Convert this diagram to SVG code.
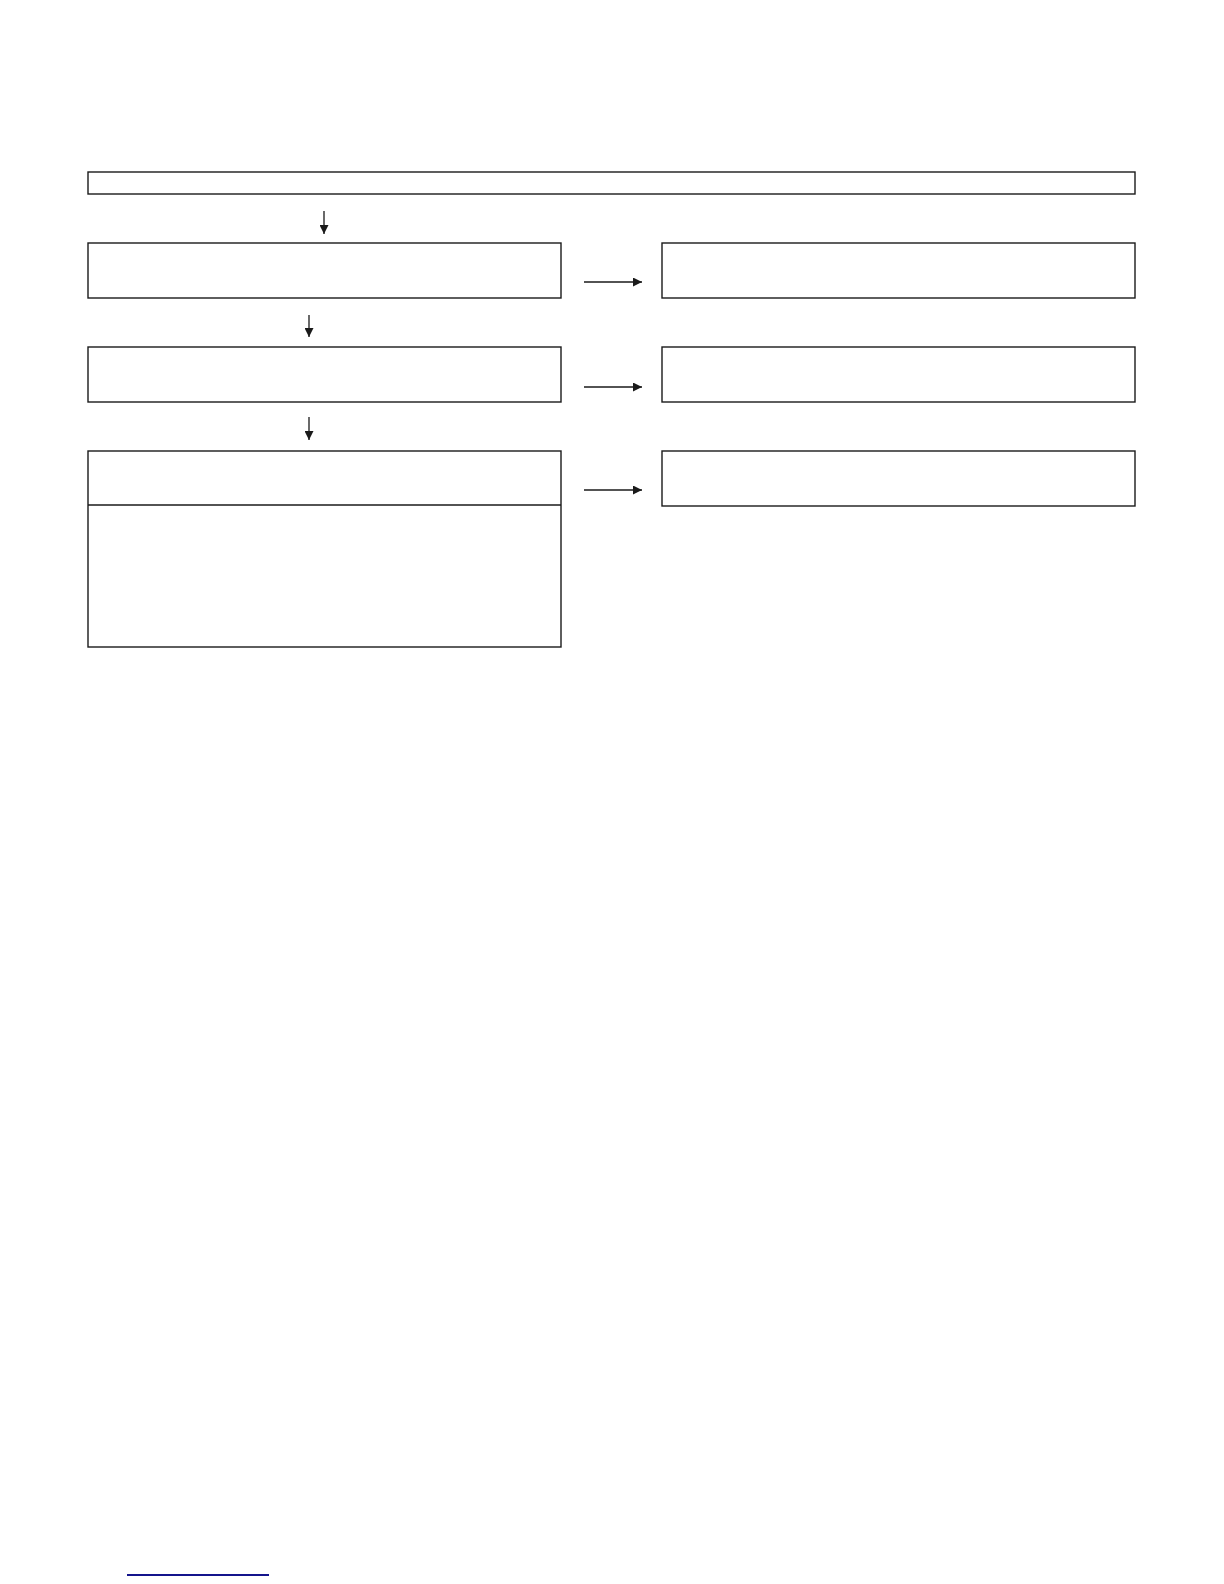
<svg xmlns="http://www.w3.org/2000/svg" width="1224" height="1584" viewBox="0 0 1224 1584">
<style>
.box{fill:#fff;stroke:#1a1a1a;stroke-width:1.4}
.con{stroke:#1a1a1a;stroke-width:1.3;fill:none}
</style>
<defs>
<marker id="ah" viewBox="0 0 10 10" refX="10" refY="5" markerWidth="10" markerHeight="9" markerUnits="userSpaceOnUse" orient="auto">
<path d="M0,0 L10,5 L0,10 Z" fill="#1a1a1a"/>
</marker>
</defs>
<rect width="1224" height="1584" fill="#fff"/>
<g id="top"><rect class="box" x="88" y="172" width="1047" height="22"/></g>
<g id="left1"><rect class="box" x="88" y="243" width="473" height="55"/></g>
<g id="right1"><rect class="box" x="662" y="243" width="473" height="55"/></g>
<g id="left2"><rect class="box" x="88" y="347" width="473" height="55"/></g>
<g id="right2"><rect class="box" x="662" y="347" width="473" height="55"/></g>
<g id="left3"><rect class="box" x="88" y="451" width="473" height="196"/><line class="con" x1="88" y1="505" x2="561" y2="505"/></g>
<g id="right3"><rect class="box" x="662" y="451" width="473" height="55"/></g>
<g id="connectors">
<line class="con" x1="324" y1="211" x2="324" y2="234" marker-end="url(#ah)"/>
<line class="con" x1="309" y1="315" x2="309" y2="337" marker-end="url(#ah)"/>
<line class="con" x1="309" y1="417" x2="309" y2="440" marker-end="url(#ah)"/>
<line class="con" x1="584" y1="282" x2="642" y2="282" marker-end="url(#ah)"/>
<line class="con" x1="584" y1="387" x2="642" y2="387" marker-end="url(#ah)"/>
<line class="con" x1="584" y1="490" x2="642" y2="490" marker-end="url(#ah)"/>
</g>
<line x1="127" y1="1575" x2="269" y2="1575" stroke="#14148c" stroke-width="1.8"/>
</svg>
